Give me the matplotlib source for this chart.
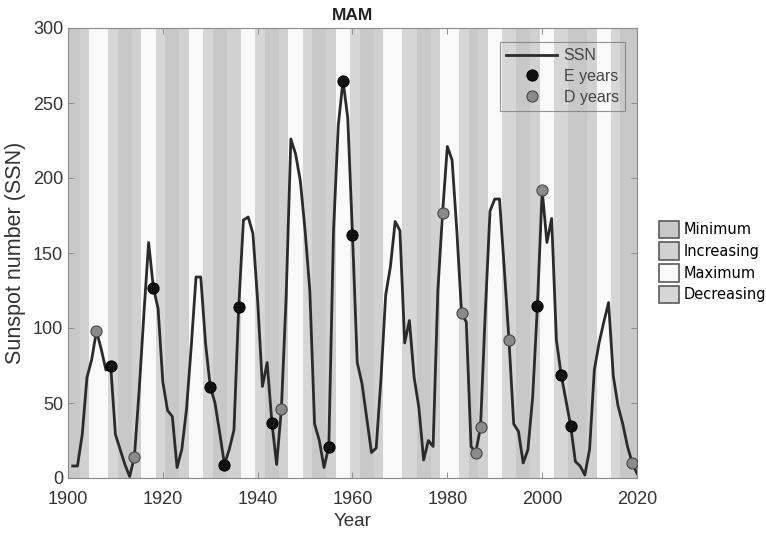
import matplotlib
matplotlib.use('Agg')
import matplotlib.pyplot as plt
from matplotlib.patches import Patch

# MAM sunspot number, one value per year
years = list(range(1901, 2021))
ssn = [8, 8, 29, 67, 79, 98, 86, 72, 75, 29,
       19, 9, 1, 14, 58, 109, 157, 127, 113, 64,
       45, 41, 7, 19, 46, 88, 134, 134, 90, 61,
       50, 30, 9, 19, 32, 114, 172, 174, 163, 118,
       61, 77, 37, 9, 46, 120, 226, 216, 198, 165,
       125, 36, 25, 7, 21, 165, 235, 265, 240, 162,
       77, 63, 40, 17, 20, 66, 122, 141, 171, 165,
       90, 105, 67, 47, 12, 25, 21, 125, 177, 221,
       212, 165, 110, 104, 21, 17, 34, 110, 178, 186,
       186, 140, 92, 36, 31, 10, 19, 54, 115, 192,
       157, 173, 92, 69, 52, 35, 11, 8, 2, 19,
       72, 90, 104, 117, 68, 48, 36, 21, 10, 3]

e_years = [1909, 1918, 1930, 1933, 1936, 1943, 1955, 1958, 1960, 1999, 2004, 2006]
d_years = [1906, 1914, 1945, 1979, 1983, 1986, 1987, 1993, 2000, 2019]

# solar cycle phases (start year of each phase)
phase_start = [1900, 1902.5, 1904.5, 1908.5, 1910.5, 1913.5, 1915.5, 1918.5, 1920.5, 1923.5,
               1925.5, 1928.5, 1930.5, 1933.5, 1936.5, 1939.5, 1941.5, 1944.5, 1946.5, 1949.5,
               1951.5, 1954.5, 1956.5, 1959.5, 1961.5, 1964.5, 1966.5, 1970.5, 1973.5, 1976.5,
               1978.5, 1982.5, 1984.5, 1986.5, 1988.5, 1991.5, 1994.5, 1997.5, 1999.5, 2002.5,
               2005.5, 2009.5, 2011.5, 2014.5, 2016.5]
phase_name = ['Minimum', 'Increasing', 'Maximum', 'Decreasing', 'Minimum', 'Increasing', 'Maximum',
              'Decreasing', 'Minimum', 'Increasing', 'Maximum', 'Decreasing', 'Minimum', 'Increasing',
              'Maximum', 'Decreasing', 'Minimum', 'Increasing', 'Maximum', 'Decreasing', 'Minimum',
              'Increasing', 'Maximum', 'Decreasing', 'Minimum', 'Increasing', 'Maximum', 'Decreasing',
              'Minimum', 'Increasing', 'Maximum', 'Decreasing', 'Minimum', 'Increasing', 'Maximum',
              'Decreasing', 'Minimum', 'Increasing', 'Maximum', 'Decreasing', 'Minimum', 'Increasing',
              'Maximum', 'Decreasing', 'Minimum']
phase_end = phase_start[1:] + [2020]

phase_colors = {'Minimum': '#c8c8c8', 'Increasing': '#d1d1d1',
                'Maximum': '#f9f9f9', 'Decreasing': '#d6d6d6'}

plt.rcParams['font.family'] = ['Liberation Sans', 'DejaVu Sans']

fig = plt.figure(figsize=(7.66, 5.34), dpi=100)
ax = fig.add_axes([68 / 766, 56 / 534, 569 / 766, 450 / 534])

for s, e, p in zip(phase_start, phase_end, phase_name):
    ax.axvspan(s, e, color=phase_colors[p], lw=0, zorder=0)

ax.plot(years, ssn, color='#2b2b2b', lw=2, zorder=2, label='SSN')
ssn_by_year = dict(zip(years, ssn))
ax.plot(e_years, [ssn_by_year[y] for y in e_years], 'o', ms=8, mfc='#111111',
        mec='#000000', mew=0.8, zorder=3, label='E years')
ax.plot(d_years, [ssn_by_year[y] for y in d_years], 'o', ms=8, mfc='#8a8a8a',
        mec='#454545', mew=0.8, zorder=3, label='D years')

ax.set_xlim(1900, 2020)
ax.set_ylim(0, 300)
ax.set_xticks(range(1900, 2021, 20))
ax.set_yticks(range(0, 301, 50))
ax.tick_params(direction='in', top=True, right=True, length=4, width=0.6,
               colors='#808080', labelcolor='#333333', labelsize=13)
ax.tick_params(axis='x', pad=9)
for sp in ax.spines.values():
    sp.set_color('#8a8a8a')
    sp.set_linewidth(0.8)

ax.set_xlabel('Year', fontsize=13.5, color='#333333', labelpad=4)
ax.set_ylabel('Sunspot number (SSN)', fontsize=15.5, color='#333333', labelpad=5)
ax.set_title('MAM', fontsize=12.5, fontweight='bold', color='#222222', pad=6)

leg = ax.legend(loc='upper right', bbox_to_anchor=(0.979, 0.969), fontsize=11.5,
                frameon=True, fancybox=False, handlelength=3.2, handletextpad=0.4,
                labelspacing=0.35, borderpad=0.4, borderaxespad=0)
leg.get_frame().set_facecolor('none')
leg.get_frame().set_edgecolor('#7a7a7a')
leg.get_frame().set_linewidth(0.8)
for t in leg.get_texts():
    t.set_color('#444444')

phase_order = ['Minimum', 'Increasing', 'Maximum', 'Decreasing']
handles = [Patch(facecolor=phase_colors[p], edgecolor='#5a5a5a', lw=1.2) for p in phase_order]
fig.legend(handles, phase_order, loc='center left', bbox_to_anchor=(646 / 766, 1 - 262 / 534),
           frameon=False, handlelength=1.35, handleheight=1.45,
           handletextpad=0.3, labelspacing=0.3, prop={'family': 'DejaVu Sans', 'size': 10.5})

fig.savefig('out.png', dpi=100)
